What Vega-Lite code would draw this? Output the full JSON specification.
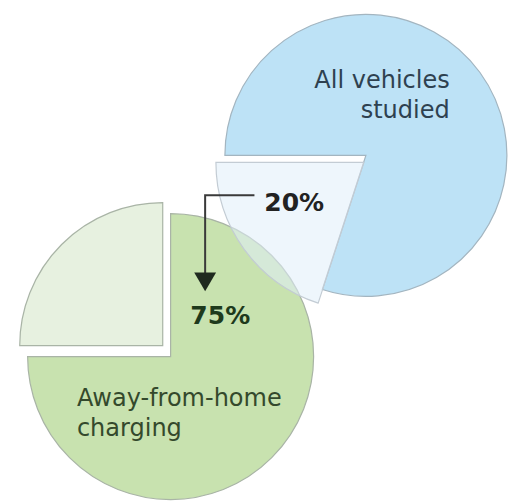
{
  "$schema": "https://vega.github.io/schema/vega-lite/v6.json",
  "width": 508,
  "height": 502,
  "padding": 0,
  "autosize": {"type": "fit", "contains": "padding"},
  "background": "white",
  "config": {"view": {"stroke": null}},
  "datasets": {
    "slices": [
      {"pie": "All vehicles studied", "part": "Other vehicles", "share": 80, "start": 75, "end": 155, "cx": 371, "cy": 156},
      {"pie": "All vehicles studied", "part": "Away-from-home charging", "share": 20, "start": 55, "end": 75, "cx": 369, "cy": 163},
      {"pie": "Away-from-home charging", "part": "Group 75%", "share": 75, "start": 0, "end": 75, "cx": 173, "cy": 358},
      {"pie": "Away-from-home charging", "part": "Group 25%", "share": 25, "start": 75, "end": 100, "cx": 165, "cy": 347}
    ],
    "arrow": [
      {"step": 1, "ax": 258, "ay": 196},
      {"step": 2, "ax": 208, "ay": 196},
      {"step": 3, "ax": 208, "ay": 276}
    ],
    "head": [{"ax": 208, "ay": 283}],
    "labels": [
      {"group": "blue", "text": ["All vehicles", "studied"], "lx": 456, "ly": 88},
      {"group": "green", "text": ["Away-from-home", "charging"], "lx": 78, "ly": 408},
      {"group": "pct20", "text": "20%", "lx": 268, "ly": 212},
      {"group": "pct75", "text": "75%", "lx": 193, "ly": 325}
    ]
  },
  "layer": [
    {
      "data": {"name": "slices"},
      "transform": [{"filter": "datum.part === 'Other vehicles'"}],
      "mark": {"type": "arc", "outerRadius": 141, "stroke": "#a3b5c0", "strokeWidth": 1.2},
      "encoding": {
        "x": {"field": "cx", "type": "quantitative", "scale": {"domain": [0, 508], "nice": false, "zero": false}, "axis": null},
        "y": {"field": "cy", "type": "quantitative", "scale": {"domain": [0, 502], "nice": false, "zero": false, "reverse": true}, "axis": null},
        "theta": {"field": "start", "type": "quantitative", "stack": null, "scale": {"domain": [0, 100], "range": [0, 6.283185307179586]}},
        "theta2": {"field": "end"},
        "color": {"field": "part", "type": "nominal", "legend": null,
          "scale": {"domain": ["Other vehicles", "Away-from-home charging", "Group 75%", "Group 25%"], "range": ["#bde2f6", "#e0effa", "#c8e2af", "#e7f1e0"]}}
      }
    },
    {
      "data": {"name": "slices"},
      "transform": [{"filter": "datum.pie === 'Away-from-home charging'"}],
      "mark": {"type": "arc", "outerRadius": 143, "stroke": "#a9b4a6", "strokeWidth": 1.2},
      "encoding": {
        "x": {"field": "cx", "type": "quantitative"},
        "y": {"field": "cy", "type": "quantitative"},
        "theta": {"field": "start", "type": "quantitative", "stack": null},
        "theta2": {"field": "end"},
        "color": {"field": "part", "type": "nominal", "legend": null}
      }
    },
    {
      "data": {"name": "slices"},
      "transform": [{"filter": "datum.part === 'Away-from-home charging'"}],
      "mark": {"type": "arc", "outerRadius": 148, "stroke": "#c3ccd4", "strokeWidth": 1.2, "fillOpacity": 0.55},
      "encoding": {
        "x": {"field": "cx", "type": "quantitative"},
        "y": {"field": "cy", "type": "quantitative"},
        "theta": {"field": "start", "type": "quantitative", "stack": null},
        "theta2": {"field": "end"},
        "color": {"field": "part", "type": "nominal", "legend": null}
      }
    },
    {
      "data": {"name": "arrow"},
      "mark": {"type": "line", "color": "#3a3a3a", "strokeWidth": 2, "interpolate": "linear"},
      "encoding": {
        "x": {"field": "ax", "type": "quantitative"},
        "y": {"field": "ay", "type": "quantitative"},
        "order": {"field": "step", "type": "quantitative"}
      }
    },
    {
      "data": {"name": "head"},
      "mark": {"type": "point", "shape": "triangle-down", "filled": true, "size": 480, "color": "#1f2a1f", "opacity": 1},
      "encoding": {
        "x": {"field": "ax", "type": "quantitative"},
        "y": {"field": "ay", "type": "quantitative"}
      }
    },
    {
      "data": {"name": "labels"},
      "transform": [{"filter": "datum.group === 'blue'"}],
      "mark": {"type": "text", "align": "right", "baseline": "alphabetic", "font": "DejaVu Sans", "fontSize": 24, "lineHeight": 30, "color": "#2e4150"},
      "encoding": {
        "x": {"field": "lx", "type": "quantitative"},
        "y": {"field": "ly", "type": "quantitative"},
        "text": {"field": "text"}
      }
    },
    {
      "data": {"name": "labels"},
      "transform": [{"filter": "datum.group === 'green'"}],
      "mark": {"type": "text", "align": "left", "baseline": "alphabetic", "font": "DejaVu Sans", "fontSize": 24, "lineHeight": 30, "color": "#34492c"},
      "encoding": {
        "x": {"field": "lx", "type": "quantitative"},
        "y": {"field": "ly", "type": "quantitative"},
        "text": {"field": "text"}
      }
    },
    {
      "data": {"name": "labels"},
      "transform": [{"filter": "datum.group === 'pct20'"}],
      "mark": {"type": "text", "align": "left", "baseline": "alphabetic", "font": "DejaVu Sans", "fontSize": 25, "fontWeight": "bold", "color": "#222222"},
      "encoding": {
        "x": {"field": "lx", "type": "quantitative"},
        "y": {"field": "ly", "type": "quantitative"},
        "text": {"field": "text"}
      }
    },
    {
      "data": {"name": "labels"},
      "transform": [{"filter": "datum.group === 'pct75'"}],
      "mark": {"type": "text", "align": "left", "baseline": "alphabetic", "font": "DejaVu Sans", "fontSize": 25, "fontWeight": "bold", "color": "#1e3a1c"},
      "encoding": {
        "x": {"field": "lx", "type": "quantitative"},
        "y": {"field": "ly", "type": "quantitative"},
        "text": {"field": "text"}
      }
    }
  ]
}
